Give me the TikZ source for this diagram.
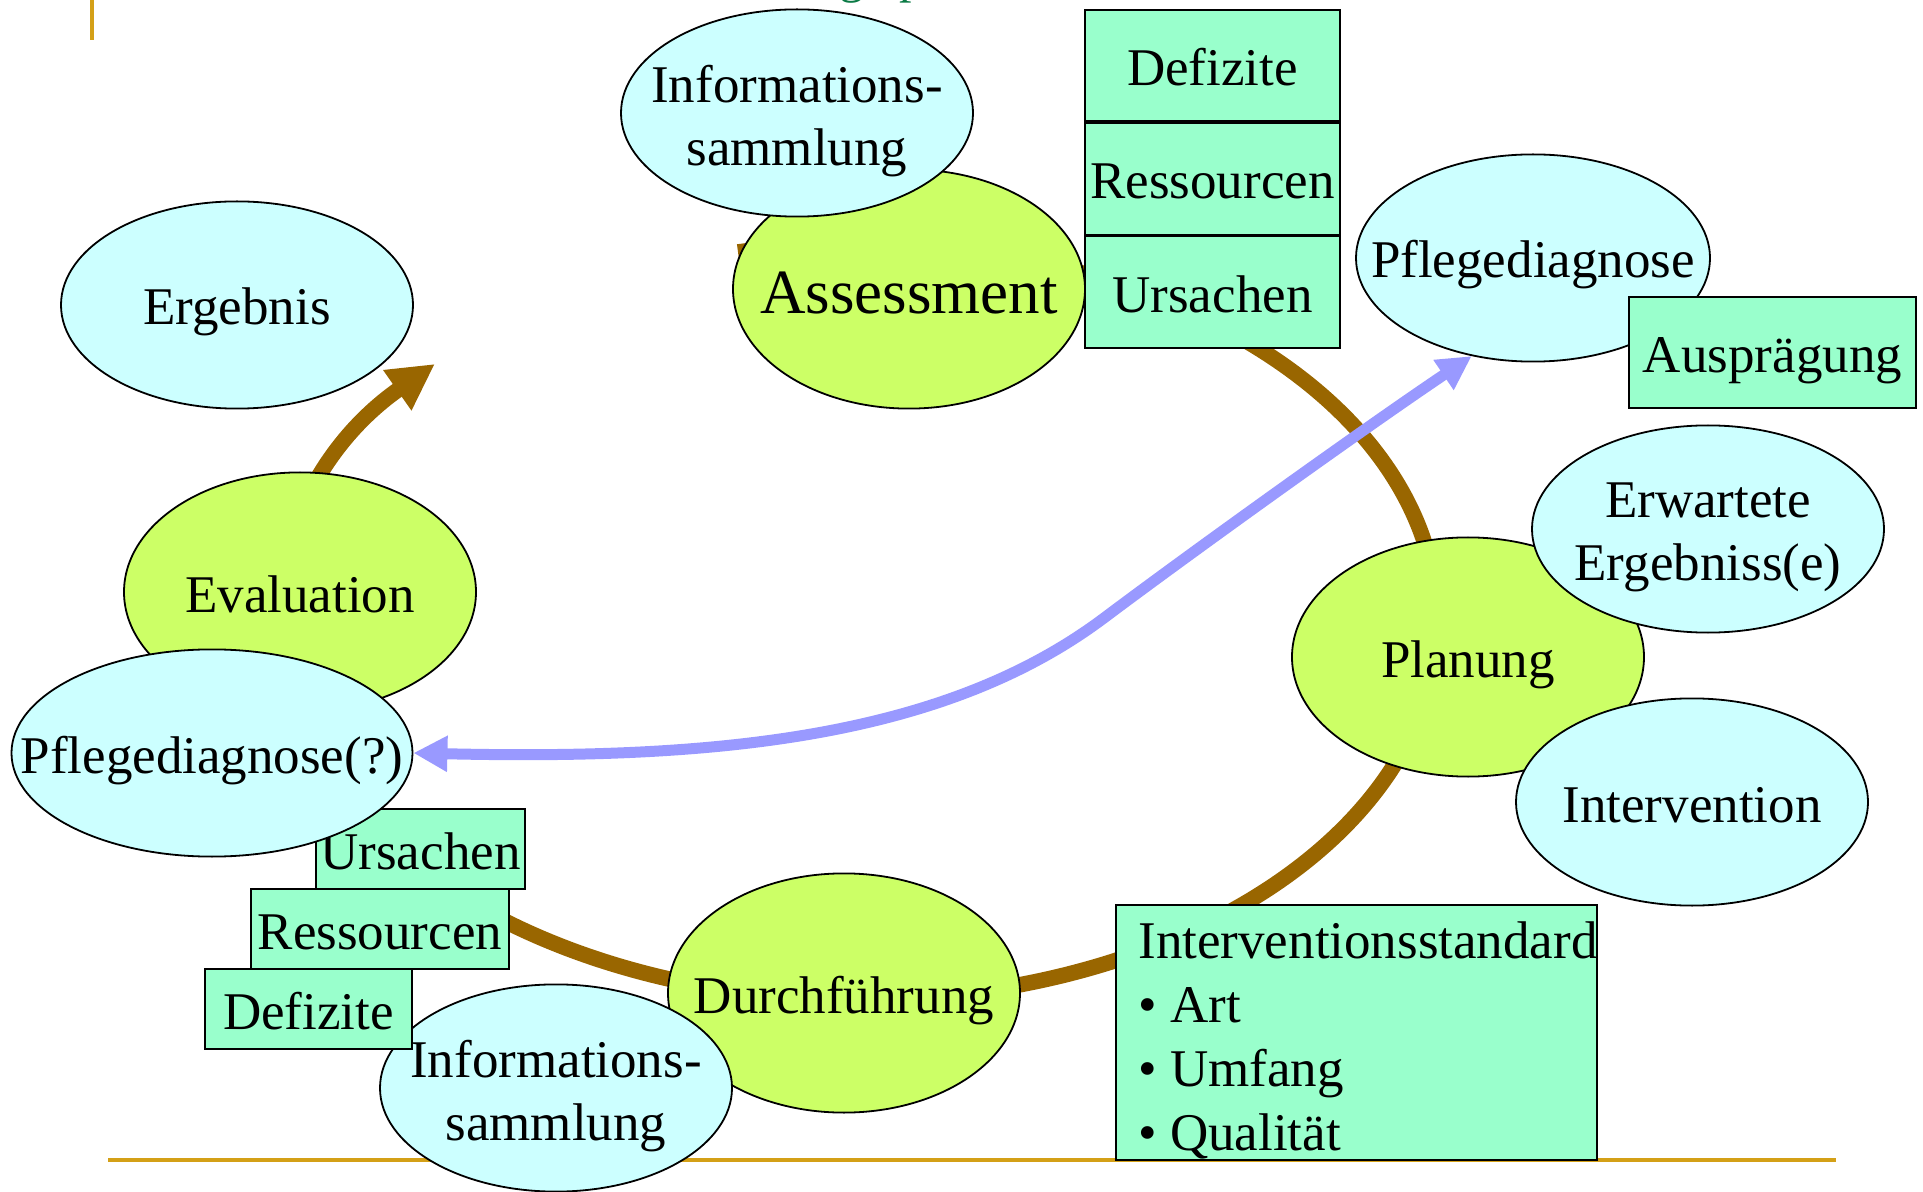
\documentclass[tikz,border=0pt]{standalone}
\usepackage{fontspec}
\setmainfont{Liberation Serif}
\usetikzlibrary{arrows.meta,shapes.geometric,positioning}
\definecolor{ellgreen}{HTML}{CCFF66}
\definecolor{ellcyan}{HTML}{CCFFFF}
\definecolor{boxmint}{HTML}{99FFCC}
\definecolor{cyclebrown}{HTML}{996600}
\definecolor{linkblue}{HTML}{9999FF}
\definecolor{rulegold}{HTML}{D4A017}
\definecolor{titlegreen}{HTML}{0B7A45}
\begin{document}
\begin{tikzpicture}[x=0.5pt,y=-0.5pt,
  txt/.style={font=\fontsize{26.5}{31.6}\selectfont, inner sep=0pt, text height=20pt, text depth=0pt},
  twotxt/.style={font=\fontsize{26.5}{31.6}\selectfont, inner sep=0pt, align=center, yshift=-4pt},
  bigtxt/.style={font=\fontsize{31.5}{36}\selectfont, inner sep=0pt, text height=24.5pt, text depth=0pt},
  phase/.style={ellipse, draw=black, line width=0.9pt, fill=ellgreen,
    minimum width=176pt, minimum height=119.6pt, inner sep=0pt},
  aspect/.style={ellipse, draw=black, line width=0.9pt, fill=ellcyan,
    minimum width=176pt, minimum height=103.6pt, inner sep=0pt},
  tag/.style={rectangle, draw=black, line width=0.9pt, fill=boxmint, inner sep=0pt,
    font=\fontsize{26.5}{31.6}\selectfont, text height=20pt, text depth=0pt},
  cyclearrow/.style={draw=cyclebrown, line width=7.8pt,
    -{Triangle[length=23pt,width=23pt]}},
  bluelink/.style={draw=linkblue, line width=5.5pt,
    {Triangle[length=17pt,width=17pt]}-{Triangle[length=17pt,width=17pt]}},
  rule/.style={draw=rulegold, line width=2pt}
]
\useasboundingbox (0,0) rectangle (1923,1192);
\clip (0,0) rectangle (1923,1192);

% slide decoration
\coordinate (vr1) at (92,0);
\coordinate (vr2) at (92,40);
\coordinate (hr1) at (108,1160);
\coordinate (hr2) at (1836,1160);
\draw[rule] (vr1) -- (vr2);
\draw[rule] (hr1) -- (hr2);
\node[font=\fontsize{25}{30}\selectfont, text=titlegreen, inner sep=0pt, anchor=base west]
  (titlefrag) at (839,-7) {g\hspace{17.5pt}p};

% process cycle
\coordinate (cstart) at (738,252);
\draw[cyclearrow] (cstart) arc[start angle=-102, end angle=223, x radius=579, y radius=378];

% Assessment
\node[phase, label={[bigtxt]center:Assessment}] (assess) at (909,289) {};
\node[aspect, label={[twotxt]center:Informations-\\sammlung}] (infotop) at (797,113) {};
\node[tag, minimum width=127.5pt, minimum height=55.75pt] (deftop) at (1212.5,65.5) {Defizite};
\node[tag, minimum width=127.5pt, minimum height=55.75pt, anchor=north] (restop) at (deftop.south) {Ressourcen};
\node[tag, minimum width=127.5pt, minimum height=55.75pt, anchor=north] (urstop) at (restop.south) {Ursachen};

% Pflegediagnose
\node[aspect, minimum width=177pt, label={[txt]center:Pflegediagnose}] (pdtr) at (1533,258) {};
\node[tag, minimum width=143.5pt, minimum height=55.5pt] (auspr) at (1772.5,352.5) {Ausprägung};

% Planung
\node[phase, label={[txt]center:Planung}] (planung) at (1468,657) {};
\node[aspect, label={[twotxt]center:Erwartete\\Ergebniss(e)}] (erwartet) at (1708,529) {};
\node[aspect, label={[txt]center:Intervention}] (interv) at (1692,802) {};

% Interventionsstandard
\node[tag, minimum width=240.5pt, minimum height=127.5pt] (istd) at (1356.5,1032.5) {};
\node[font=\fontsize{26.5}{32}\selectfont, inner sep=0pt, align=left, anchor=north west]
  (istdtxt) at (1138,921) {Interventionsstandard\\\textbullet\ Art\\\textbullet\ Umfang\\\textbullet\ Qualität};

% Durchführung
\node[phase, label={[txt]center:Durchführung}] (durch) at (844,993) {};
\node[aspect, label={[twotxt]center:Informations-\\sammlung}] (infobot) at (556,1088) {};
\node[tag, minimum width=104.5pt, minimum height=40pt] (ursbl) at (420.5,849) {Ursachen};
\node[tag, minimum width=129pt, minimum height=40pt] (resbl) at (380,929) {Ressourcen};
\node[tag, minimum width=103.5pt, minimum height=40pt] (defbl) at (308.5,1009) {Defizite};

% Evaluation
\node[phase, label={[txt]center:Evaluation}] (eval) at (300,592) {};
\node[aspect, minimum width=200.5pt, label={[txt]center:Pflegediagnose(?)}] (pdq) at (212,753) {};
\node[aspect, label={[txt]center:Ergebnis}] (ergebnis) at (237,305) {};

% link between the two diagnoses
\coordinate (bend) at (1104,618);
\draw[bluelink] (pdq.east) .. controls (715,760) and (944,738) .. (bend)
  .. controls (1200,546) and (1372,423) .. (pdtr.238);
\end{tikzpicture}
\end{document}
